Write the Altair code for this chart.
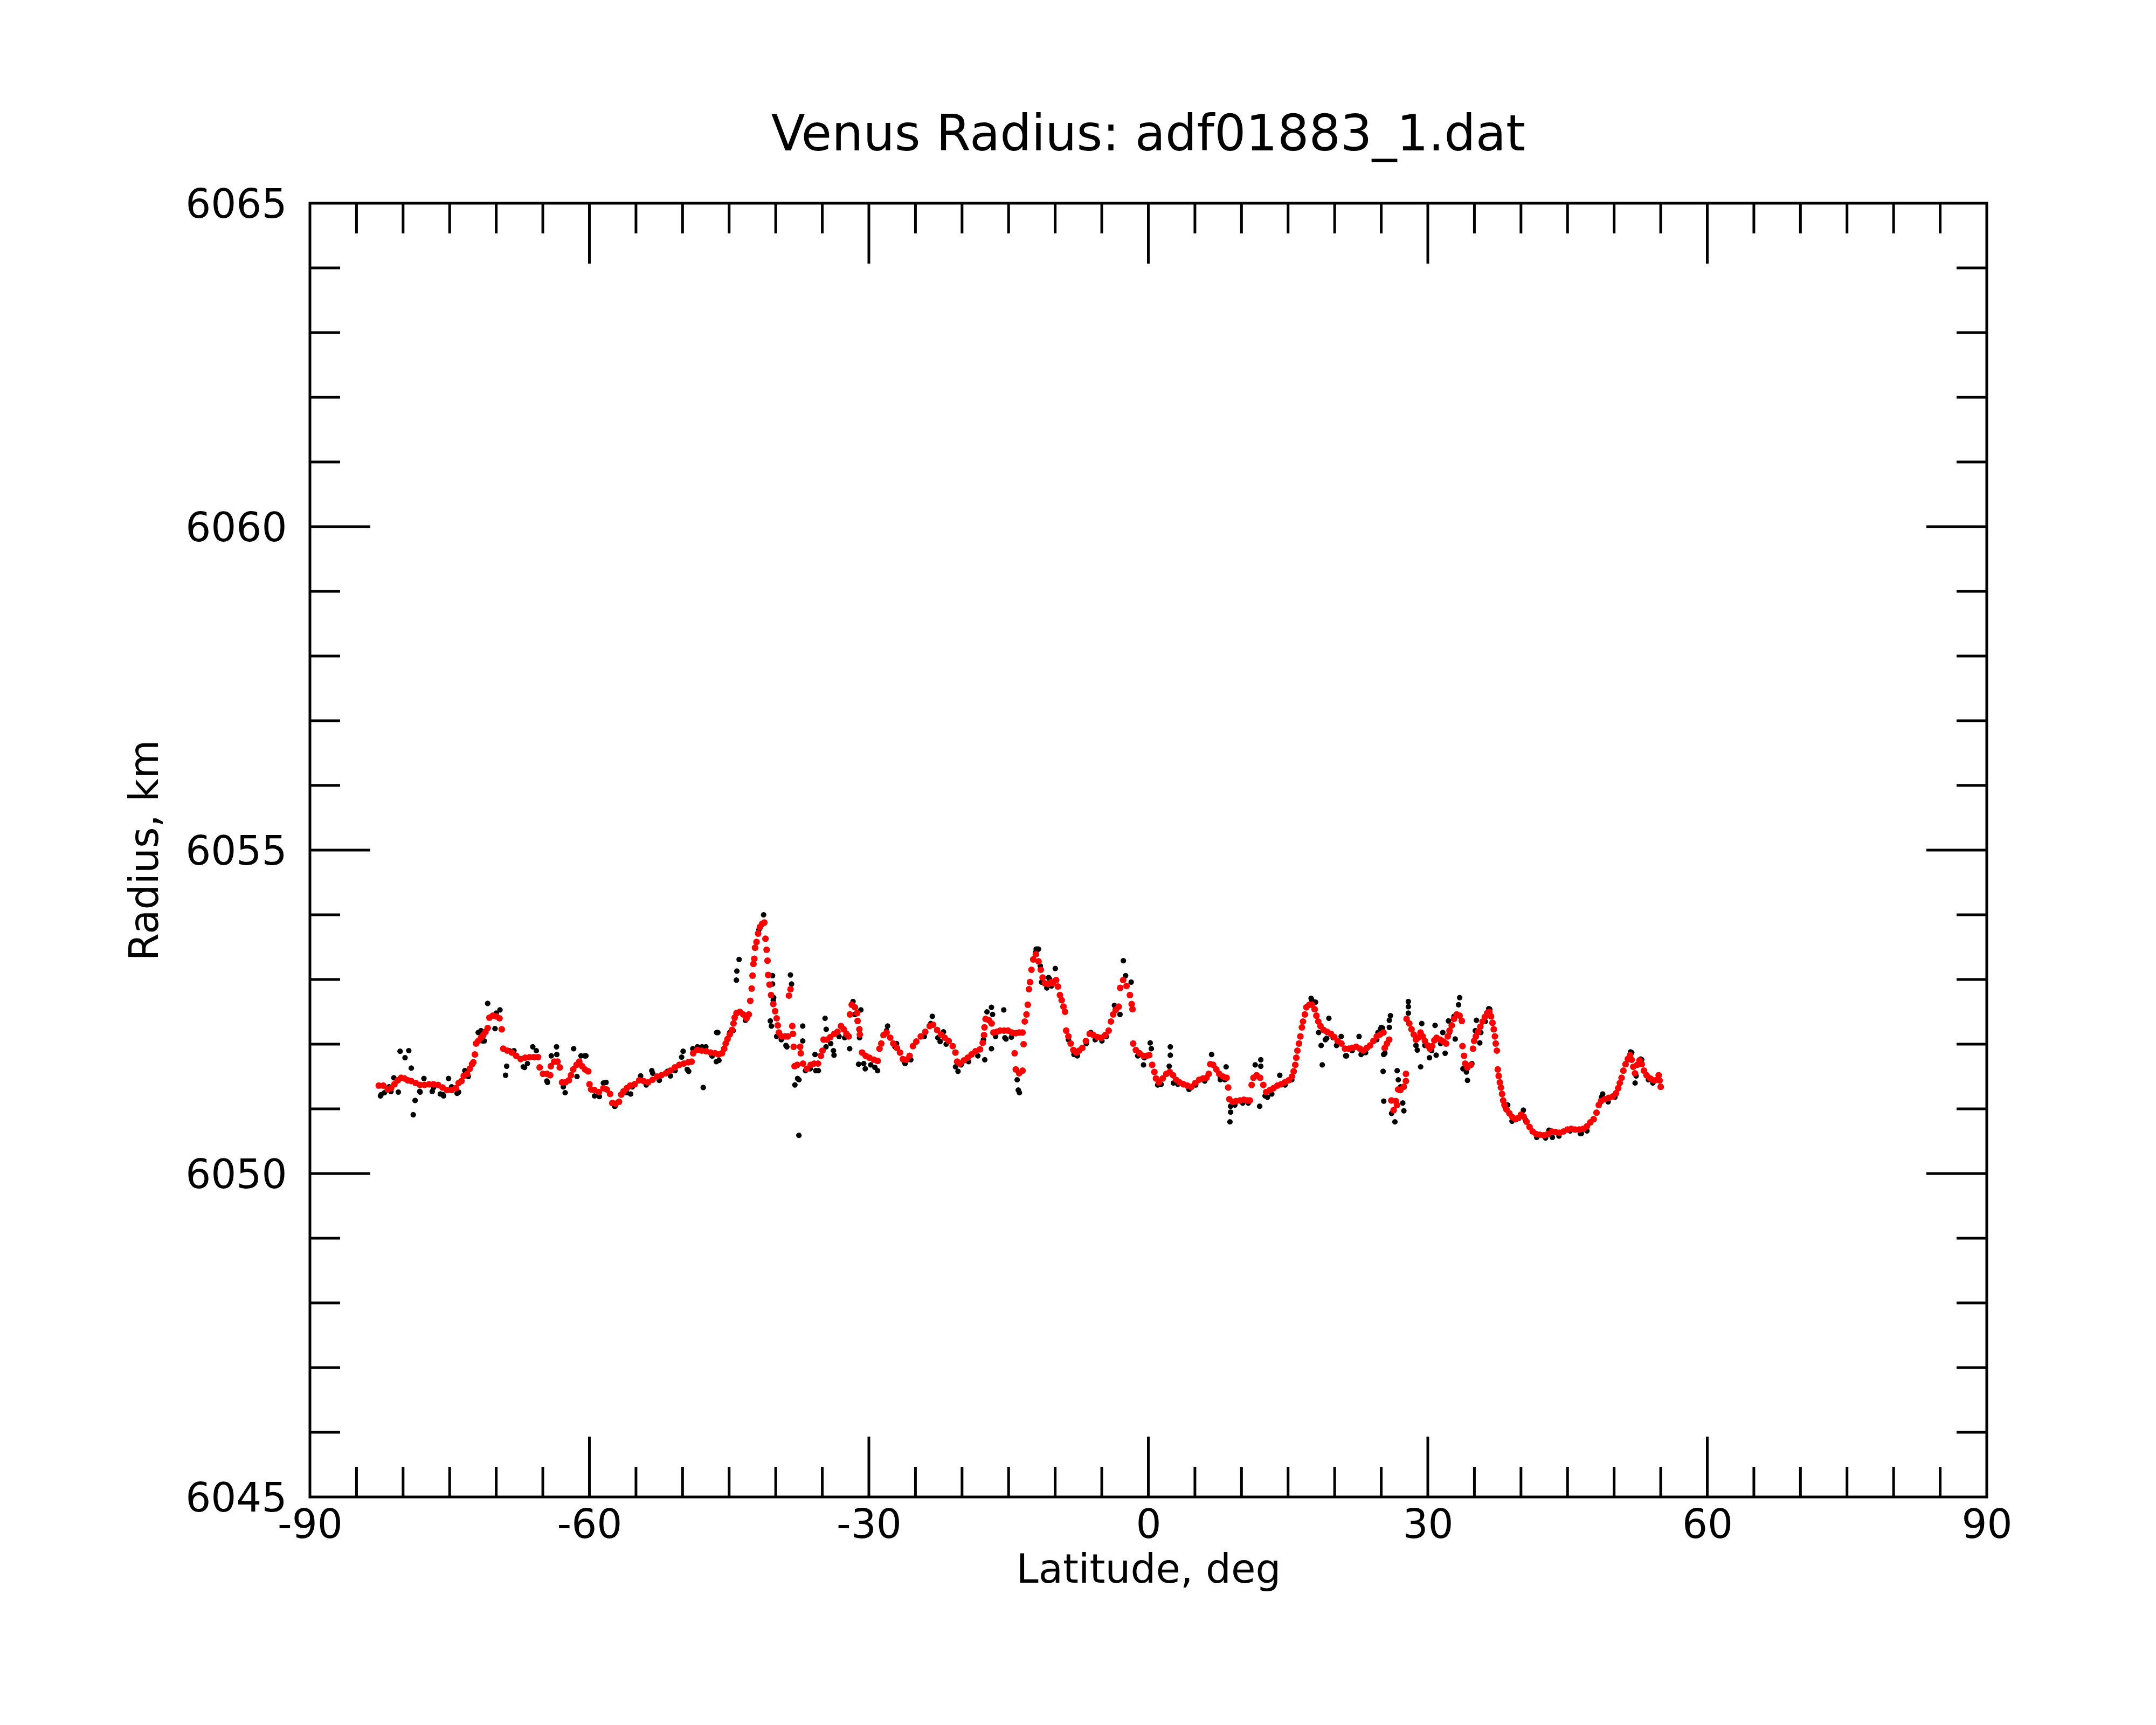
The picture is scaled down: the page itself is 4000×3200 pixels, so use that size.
import altair as alt
import pandas as pd

TITLE = "Venus Radius: adf01883_1.dat"

# Red (smoothed) radius profile: latitude (deg) and radius (km)
red_lat = [
    -82.61, -82.13, -81.65, -81.29, -80.93, -80.57, -80.21, -79.85, -79.49, -79.13,
    -78.65, -78.17, -77.69, -77.21, -76.73, -76.25, -75.77, -75.29, -74.81, -74.33,
    -74.04, -73.73, -73.49, -73.13, -72.84, -72.60, -72.46, -72.29, -72.17, -71.93,
    -71.64, -71.40, -71.16, -70.92, -70.73, -70.37, -70.01, -69.65, -69.41, -69.25,
    -68.81, -68.33, -67.86, -67.38, -66.90, -66.42, -65.94, -65.51, -65.34, -64.98,
    -64.55, -64.21, -64.14, -63.78, -63.42, -63.18, -62.94, -62.58, -62.22, -61.98,
    -61.74, -61.38, -61.09, -60.78, -60.47, -60.13, -59.99, -59.82, -59.46, -58.98,
    -58.50, -58.14, -57.78, -57.54, -57.18, -56.82, -56.58, -56.34, -55.98, -55.62,
    -55.14, -54.66, -54.18, -53.70, -53.22, -52.74, -52.27, -51.79, -51.31, -50.83,
    -50.35, -49.87, -49.39, -49.03, -48.86, -48.43, -47.95, -47.47, -46.99, -46.51,
    -46.13, -45.77, -45.53, -45.37, -45.17, -44.93, -44.69, -44.53, -44.41, -44.21,
    -43.85, -43.49, -43.13, -42.89, -42.73, -42.58, -42.49, -42.39, -42.30, -42.22,
    -42.06, -41.89, -41.70, -41.46, -41.22, -41.10, -40.98, -40.88, -40.81, -40.66,
    -40.50, -40.26, -40.06, -39.90, -39.78, -39.66, -39.37, -38.98, -38.70, -38.58,
    -38.41, -38.22, -38.15, -38.07, -37.98, -37.69, -37.38, -37.31, -37.07, -36.66,
    -36.25, -35.87, -35.46, -35.15, -34.98, -34.86, -34.50, -34.14, -33.71, -33.37,
    -32.99, -32.70, -32.41, -32.17, -32.03, -31.84, -31.50, -31.26, -31.21, -31.02,
    -30.97, -30.73, -30.35, -29.94, -29.46, -29.06, -28.86, -28.67, -28.43, -28.10,
    -27.71, -27.38, -26.99, -26.66, -26.35, -25.99, -25.63, -25.27, -24.91, -24.43,
    -23.95, -23.47, -23.11, -22.68, -22.27, -21.86, -21.43, -21.00, -20.71, -20.52,
    -20.23, -19.80, -19.39, -18.98, -18.55, -18.07, -17.78, -17.64, -17.59, -17.47,
    -17.11, -16.82, -16.63, -16.27, -15.91, -15.48, -15.07, -14.66, -14.23, -13.87,
    -13.51, -13.39, -14.35, -14.23, -13.87, -13.51, -13.27, -13.08, -12.94, -12.82,
    -12.70, -12.55, -12.36, -12.07, -11.79, -11.55, -11.35, -11.11, -10.75, -10.44,
    -10.26, -9.90, -9.71, -9.49, -9.30, -9.11, -8.94, -8.82, -8.58, -8.34,
    -8.05, -7.74, -7.43, -7.09, -6.71, -6.30, -5.89, -5.46, -5.03, -4.62,
    -4.26, -4.02, -3.78, -3.50, -3.18, -3.02, -2.70, -2.34, -1.98, -1.79,
    -1.70, -1.63, -1.34, -0.95, -0.55, -0.19, 0.10, 0.41, 0.65, 0.82,
    1.13, 1.54, 1.93, 2.29, 2.65, 2.98, 3.36, 3.77, 4.18, 4.61,
    5.04, 5.45, 5.86, 6.24, 6.48, 6.65, 6.96, 7.30, 7.61, 8.02,
    8.40, 8.57, 8.69, 9.05, 9.41, 9.84, 10.25, 10.61, 10.90, 11.09,
    11.28, 11.62, 12.00, 12.34, 12.65, 13.05, 13.44, 13.85, 14.25, 14.64,
    15.05, 15.41, 15.60, 15.77, 15.88, 16.00, 16.17, 16.32, 16.48, 16.60,
    16.80, 16.96, 17.28, 17.56, 17.85, 18.04, 18.24, 18.48, 18.81, 19.19,
    19.60, 19.96, 20.32, 20.73, 21.11, 21.52, 21.88, 22.31, 22.72, 23.08,
    23.44, 23.80, 24.16, 24.52, 24.88, 25.24, 25.37, 25.61, 25.85, 26.09,
    26.33, 26.57, 26.69, 26.81, 27.05, 27.41, 27.65, 27.65, 27.72, 28.01,
    28.25, 28.49, 28.73, 28.97, 29.21, 29.45, 29.69, 29.98, 30.22, 30.46,
    30.70, 30.94, 31.32, 31.66, 31.97, 32.14, 32.33, 32.57, 32.81, 33.10,
    33.41, 33.65, 33.72, 33.89, 34.01, 34.25, 34.61, 34.85, 34.97, 35.16,
    35.40, 35.64, 35.88, 36.12, 36.36, 36.60, 36.79, 36.94, 37.08, 37.20,
    37.29, 37.41, 37.51, 37.61, 37.73, 37.85, 37.97, 38.09, 38.23, 38.45,
    38.76, 39.09, 39.41, 39.72, 40.00, 40.29, 40.60, 40.92, 41.25, 41.64,
    42.04, 42.45, 42.88, 43.31, 43.72, 44.13, 44.56, 44.99, 45.40, 45.81,
    46.24, 46.67, 47.08, 47.44, 47.80, 48.11, 48.35, 48.59, 49.00, 49.41,
    49.84, 50.20, 50.44, 50.61, 50.80, 50.99, 51.23, 51.47, 51.71, 51.88,
    52.05, 52.24, 52.48, 52.72, 52.96, 53.20, 53.48, 53.87, 54.28, 54.64,
    54.78, 54.88, 55.00,
]
red_r = [
    6051.36, 6051.36, 6051.30, 6051.32, 6051.38, 6051.44, 6051.48, 6051.47, 6051.44, 6051.43,
    6051.40, 6051.37, 6051.37, 6051.38, 6051.38, 6051.37, 6051.33, 6051.29, 6051.29, 6051.32,
    6051.40, 6051.43, 6051.51, 6051.54, 6051.62, 6051.69, 6051.72, 6051.84, 6052.01, 6052.05,
    6052.10, 6052.14, 6052.19, 6052.25, 6052.41, 6052.44, 6052.43, 6052.40, 6052.23, 6051.93,
    6051.90, 6051.87, 6051.82, 6051.77, 6051.79, 6051.80, 6051.80, 6051.80, 6051.64, 6051.54,
    6051.54, 6051.52, 6051.66, 6051.73, 6051.73, 6051.64, 6051.41, 6051.41, 6051.44, 6051.52,
    6051.61, 6051.68, 6051.73, 6051.66, 6051.61, 6051.58, 6051.38, 6051.30, 6051.29, 6051.26,
    6051.32, 6051.30, 6051.23, 6051.09, 6051.08, 6051.11, 6051.22, 6051.27, 6051.32, 6051.36,
    6051.38, 6051.44, 6051.43, 6051.41, 6051.45, 6051.50, 6051.52, 6051.55, 6051.59, 6051.64,
    6051.68, 6051.70, 6051.72, 6051.73, 6051.86, 6051.91, 6051.90, 6051.89, 6051.87, 6051.86,
    6051.84, 6051.86, 6051.93, 6052.01, 6052.08, 6052.15, 6052.22, 6052.32, 6052.41, 6052.48,
    6052.50, 6052.46, 6052.40, 6052.46, 6052.67, 6052.86, 6053.06, 6053.24, 6053.32, 6053.49,
    6053.58, 6053.71, 6053.81, 6053.86, 6053.88, 6053.63, 6053.46, 6053.29, 6053.07, 6052.92,
    6052.76, 6052.62, 6052.51, 6052.40, 6052.29, 6052.18, 6052.12, 6052.12, 6052.12, 6052.75,
    6052.85, 6052.28, 6052.16, 6051.96, 6051.66, 6051.68, 6051.96, 6051.86, 6051.70, 6051.62,
    6051.68, 6051.70, 6051.70, 6051.82, 6051.90, 6052.07, 6052.07, 6052.11, 6052.16, 6052.19,
    6052.28, 6052.23, 6052.16, 6052.12, 6052.46, 6052.61, 6052.57, 6052.48, 6052.36, 6052.23,
    6052.15, 6051.87, 6051.82, 6051.79, 6051.76, 6051.74, 6051.93, 6052.01, 6052.14, 6052.18,
    6052.10, 6052.01, 6051.94, 6051.87, 6051.77, 6051.76, 6051.82, 6051.97, 6052.04, 6052.12,
    6052.19, 6052.28, 6052.30, 6052.22, 6052.15, 6052.10, 6052.05, 6051.97, 6051.87, 6051.73,
    6051.70, 6051.75, 6051.79, 6051.84, 6051.89, 6051.92, 6052.02, 6052.14, 6052.26, 6052.39,
    6052.37, 6052.32, 6052.18, 6052.19, 6052.21, 6052.21, 6052.21, 6052.18, 6052.17, 6052.18,
    6052.18, 6052.00, 6051.86, 6051.61, 6051.55, 6051.59, 6052.35, 6052.46, 6052.61, 6052.85,
    6052.96, 6053.15, 6053.31, 6053.39, 6053.28, 6053.15, 6053.03, 6052.94, 6052.93, 6052.96,
    6052.94, 6052.99, 6052.89, 6052.76, 6052.68, 6052.58, 6052.50, 6052.21, 6052.12, 6052.01,
    6051.91, 6051.87, 6051.90, 6051.94, 6052.05, 6052.16, 6052.14, 6052.11, 6052.10, 6052.14,
    6052.21, 6052.35, 6052.46, 6052.53, 6052.58, 6052.87, 6052.99, 6052.90, 6052.76, 6052.62,
    6052.54, 6052.01, 6051.91, 6051.86, 6051.82, 6051.82, 6051.83, 6051.68, 6051.57, 6051.47,
    6051.41, 6051.47, 6051.54, 6051.57, 6051.52, 6051.45, 6051.41, 6051.38, 6051.36, 6051.34,
    6051.40, 6051.45, 6051.47, 6051.48, 6051.54, 6051.69, 6051.68, 6051.61, 6051.54, 6051.50,
    6051.48, 6051.33, 6051.15, 6051.11, 6051.12, 6051.13, 6051.14, 6051.13, 6051.13, 6051.37,
    6051.48, 6051.52, 6051.48, 6051.37, 6051.26, 6051.29, 6051.32, 6051.36, 6051.38, 6051.41,
    6051.44, 6051.50, 6051.58, 6051.68, 6051.79, 6051.90, 6052.01, 6052.12, 6052.26, 6052.35,
    6052.46, 6052.57, 6052.61, 6052.61, 6052.54, 6052.44, 6052.35, 6052.28, 6052.22, 6052.19,
    6052.16, 6052.11, 6052.05, 6052.01, 6051.93, 6051.93, 6051.94, 6051.96, 6051.93, 6051.90,
    6051.94, 6051.98, 6052.05, 6052.12, 6052.15, 6052.18, 6051.94, 6052.01, 6052.07, 6051.13,
    6050.98, 6051.12, 6051.06, 6051.30, 6051.29, 6051.34, 6051.43, 6051.54, 6052.39, 6052.32,
    6052.23, 6052.15, 6052.07, 6052.10, 6052.18, 6052.12, 6052.05, 6051.98, 6051.93, 6051.97,
    6052.06, 6052.10, 6052.07, 6052.04, 6052.01, 6052.12, 6052.21, 6052.29, 6052.39, 6052.46,
    6052.44, 6052.36, 6051.97, 6051.82, 6051.70, 6051.64, 6051.68, 6051.93, 6052.05, 6052.12,
    6052.19, 6052.27, 6052.35, 6052.42, 6052.48, 6052.50, 6052.43, 6052.33, 6052.23, 6052.12,
    6052.01, 6051.90, 6051.61, 6051.51, 6051.41, 6051.33, 6051.23, 6051.13, 6051.06, 6050.99,
    6050.93, 6050.87, 6050.84, 6050.86, 6050.91, 6050.88, 6050.80, 6050.72, 6050.65, 6050.61,
    6050.60, 6050.59, 6050.61, 6050.65, 6050.64, 6050.63, 6050.65, 6050.68, 6050.69, 6050.68,
    6050.68, 6050.69, 6050.73, 6050.79, 6050.84, 6050.94, 6051.06, 6051.12, 6051.15, 6051.17,
    6051.19, 6051.24, 6051.32, 6051.40, 6051.48, 6051.59, 6051.69, 6051.77, 6051.83, 6051.76,
    6051.65, 6051.55, 6051.68, 6051.75, 6051.69, 6051.59, 6051.52, 6051.47, 6051.44, 6051.45,
    6051.52, 6051.44, 6051.34,
]

# Black (raw) radius samples: latitude (deg) and radius (km)
black_lat = [
    -82.36, -82.00, -81.50, -81.30, -78.17, -76.73, -76.00, -75.65, -74.80, -74.20,
    -73.37, -73.00, -71.93, -71.45, -70.00, -68.60, -68.10, -67.10, -66.65, -65.70,
    -64.50, -63.50, -62.80, -60.90, -60.50, -59.45, -58.50, -57.30, -56.00, -55.40,
    -53.90, -53.20, -52.50, -51.30, -50.80, -50.10, -49.50, -48.90, -48.40, -47.50,
    -46.80, -47.57, -46.85, -46.37, -44.93, -44.57, -44.10, -43.25, -41.80, -40.26,
    -39.90, -39.40, -38.80, -37.50, -36.80, -36.30, -35.70, -34.60, -34.10, -33.80,
    -33.20, -32.60, -31.50, -31.00, -30.55, -29.80, -29.35, -28.10, -27.20, -26.10,
    -25.50, -24.05, -23.35, -22.60, -21.70, -20.70, -20.10, -19.30, -18.30, -17.70,
    -16.40, -15.40, -14.70, -12.10, -11.60, -10.90, -11.46, -10.98, -10.40, -8.58,
    -7.98, -7.62, -6.66, -6.18, -5.70, -4.98, -4.50, -1.14, -0.43, 1.00,
    1.37, 2.69, 3.17, 4.37, 5.09, 6.05, 7.73, 8.21, 9.29, 10.13,
    10.73, 12.53, 13.25, 14.68, 15.40, 17.56, 18.28, 19.00, 19.84, 20.20,
    21.28, 21.88, 22.84, 23.32, 24.52, 24.65, 25.00, 28.73, 29.69, 30.41,
    31.37, 31.61, 32.33, 32.81, 33.77, 34.73, 35.69, 36.17, 36.65, 38.33,
    39.04, 39.52, 40.48, 41.69, 42.64, 44.08, 45.28, 46.48, 47.08, 48.64,
    49.36, 50.08, 51.76, 52.36, 52.96, 53.68, 54.16,
    -80.32, -79.39, -79.79, -79.12, -78.71, -78.91, -80.51, -80.99, -82.43, -78.21,
    -77.76, -76.87, -75.72, -75.12, -74.04, -70.92, -69.60, -70.13, -71.28, -71.64,
    -68.88, -69.00, -66.96, -66.08, -64.57, -63.53, -64.09, -62.60, -61.69, -60.37,
    -61.33, -58.21, -58.93, -57.25, -55.57, -54.50, -53.30, -51.62, -49.94, -49.34,
    -47.78, -47.90, -46.34, -46.09, -46.21, -43.93, -44.17, -44.22, -41.30, -40.58,
    -40.46, -40.34, -40.34, -40.22, -38.90, -38.42, -38.30, -37.94, -37.65, -37.51,
    -37.10, -37.10, -35.78, -35.42, -34.70, -34.58, -33.74, -32.06, -31.70, -30.86,
    -31.10, -30.39, -29.07, -27.99, -27.03, -26.19, -23.19, -22.35, -21.99, -20.43,
    -19.47, -17.56, -17.32, -16.84, -16.72, -16.84, -15.52, -15.28, -14.08, -13.96,
    -13.84, -12.04, -11.80, -10.60, -11.91, -9.99, -10.71, -2.68, -2.44, -1.84,
    -3.64, -3.04, 0.20, 0.32, -0.52, 2.36, 2.36, 2.24, 6.79, 8.35,
    7.75, 8.83, 8.83, 8.76, 11.95, 11.47, 12.07, 12.07, 12.79, 14.11,
    17.47, 17.95, 19.38, 18.67, 18.55, 19.14, 20.70, 21.18, 22.62, 25.14,
    25.26, 24.91, 25.99, 25.87, 25.87, 25.39, 25.20, 25.27, 26.71, 26.83,
    27.07, 27.31, 27.43, 26.47, 26.11, 27.91, 27.91, 27.91, 28.87, 29.23,
    29.35, 30.18, 30.78, 30.90, 31.86, 32.22, 32.94, 33.42, 33.30, 34.14,
    34.26, 35.22, 35.10, 35.58, 36.54, 38.58, 40.26, 43.01, 43.37, 46.37,
    48.77, 51.89, 52.25, 52.85,
]
black_r = [
    6051.22, 6051.25, 6051.34, 6051.27, 6051.26, 6051.33, 6051.23, 6051.20, 6051.34, 6051.24,
    6051.59, 6051.50, 6052.18, 6052.05, 6052.48, 6051.90, 6051.90, 6051.65, 6051.70, 6051.90,
    6051.41, 6051.84, 6051.34, 6051.82, 6051.82, 6051.20, 6051.40, 6051.04, 6051.25, 6051.34,
    6051.37, 6051.55, 6051.44, 6051.51, 6051.59, 6051.80, 6051.61, 6051.93, 6051.96, 6051.96,
    6051.82, 6051.93, 6051.82, 6051.73, 6052.18, 6052.21, 6052.48, 6052.37, 6053.77, 6052.68,
    6052.12, 6052.07, 6051.96, 6051.45, 6051.59, 6051.62, 6051.59, 6051.96, 6052.01, 6051.90,
    6052.12, 6052.10, 6052.46, 6052.10, 6051.70, 6051.68, 6051.64, 6052.21, 6051.96, 6051.70,
    6051.76, 6052.12, 6052.32, 6052.10, 6052.00, 6051.65, 6051.68, 6051.73, 6051.82, 6052.07,
    6052.12, 6052.10, 6052.11, 6053.42, 6053.21, 6052.87, 6052.96, 6052.93, 6052.90, 6052.07,
    6051.84, 6051.82, 6052.01, 6052.18, 6052.07, 6052.05, 6052.12, 6051.82, 6051.79, 6051.37,
    6051.38, 6051.40, 6051.38, 6051.30, 6051.37, 6051.43, 6051.45, 6051.45, 6051.06, 6051.09,
    6051.09, 6051.20, 6051.23, 6051.37, 6051.45, 6052.68, 6052.18, 6052.07, 6052.10, 6051.98,
    6051.82, 6051.90, 6051.84, 6051.87, 6052.07, 6052.18, 6052.26, 6051.98, 6051.98, 6051.90,
    6052.01, 6052.18, 6052.18, 6052.43, 6051.62, 6051.70, 6052.18, 6052.35, 6052.54, 6051.01,
    6050.81, 6050.84, 6050.83, 6050.56, 6050.55, 6050.58, 6050.66, 6050.62, 6050.66, 6051.18,
    6051.11, 6051.18, 6051.88, 6051.51, 6051.76, 6051.45, 6051.40,
    6051.89, 6051.90, 6051.79, 6051.63, 6051.13, 6050.91, 6051.26, 6051.48, 6051.20, 6051.27,
    6051.47, 6051.27, 6051.22, 6051.47, 6051.26, 6052.63, 6052.53, 6052.24, 6052.05, 6052.21,
    6051.66, 6051.52, 6051.64, 6051.96, 6051.43, 6051.96, 6051.82, 6051.25, 6051.93, 6051.82,
    6051.50, 6051.41, 6051.19, 6051.04, 6051.23, 6051.51, 6051.59, 6051.58, 6051.89, 6051.58,
    6051.33, 6051.96, 6052.18, 6051.75, 6052.18, 6053.31, 6053.13, 6052.99, 6054.00, 6052.36,
    6052.28, 6053.06, 6052.93, 6052.72, 6051.98, 6053.07, 6052.93, 6051.37, 6051.47, 6050.59,
    6052.28, 6052.05, 6051.84, 6051.59, 6052.40, 6052.23, 6051.83, 6051.93, 6052.66, 6052.53,
    6051.69, 6051.62, 6051.59, 6052.28, 6052.01, 6051.72, 6052.43, 6052.04, 6052.19, 6051.58,
    6051.75, 6051.76, 6052.50, 6052.57, 6052.46, 6051.93, 6052.53, 6052.08, 6051.45, 6051.29,
    6051.25, 6053.47, 6053.47, 6053.01, 6053.47, 6053.17, 6053.03, 6053.29, 6053.06, 6052.96,
    6052.60, 6052.46, 6052.02, 6051.93, 6051.68, 6051.96, 6051.83, 6051.66, 6051.84, 6051.65,
    6051.48, 6051.04, 6050.95, 6050.80, 6051.04, 6051.68, 6051.76, 6051.66, 6051.18, 6051.52,
    6052.71, 6052.65, 6052.40, 6051.68, 6051.98, 6052.09, 6052.12, 6051.82, 6052.12, 6052.25,
    6051.84, 6052.23, 6052.44, 6052.37, 6052.26, 6051.86, 6051.58, 6051.12, 6051.59, 6051.45,
    6051.34, 6051.09, 6050.97, 6050.80, 6050.93, 6052.66, 6052.58, 6052.48, 6051.91, 6051.65,
    6052.32, 6051.79, 6052.29, 6051.83, 6051.86, 6052.36, 6052.08, 6052.72, 6052.61, 6051.57,
    6051.44, 6052.37, 6052.21, 6052.02, 6052.55, 6051.06, 6050.98, 6050.67, 6050.56, 6050.62,
    6051.23, 6051.87, 6051.40, 6051.77,
]

# Axis values
x_labels = [-90, -60, -30, 0, 30, 60, 90]
y_labels = [6045, 6050, 6055, 6060, 6065]
x_major_ticks = [-60, -30, 0, 30, 60]
x_minor_ticks = [v for v in range(-85, 90, 5) if v % 30 != 0]
y_major_ticks = [6050, 6055, 6060]
y_minor_ticks = [v for v in range(6046, 6065) if v % 5 != 0]

W, H = 3111, 2400
FONT = "DejaVu Sans"
LW = 5
MAJ, MIN = 112, 56

xs = alt.Scale(domain=[-90, 90], nice=False, zero=False)
ys = alt.Scale(domain=[6045, 6065], nice=False, zero=False)

red_df = pd.DataFrame({"lat": red_lat, "r": red_r})
black_df = pd.DataFrame({"lat": black_lat, "r": black_r})

x_axis = alt.Axis(
    values=x_labels, ticks=False, tickSize=0, domain=False, grid=False,
    labelFont=FONT, labelFontSize=74, labelColor="black", labelPadding=17,
    labelFlush=False, labelOverlap=False, labelLimit=600,
    labelExpr="datum.value + ''",
    title="Latitude, deg", titleFont=FONT, titleFontSize=74, titleFontWeight="normal",
    titleColor="black", titleBaseline="alphabetic", titleY=158,
)
y_axis = alt.Axis(
    values=y_labels, ticks=False, tickSize=0, domain=False, grid=False,
    labelFont=FONT, labelFontSize=74, labelColor="black", labelPadding=43,
    labelFlush=False, labelOverlap=False, labelOffset=4, labelLimit=600,
    labelExpr="datum.value + ''",
    title="Radius, km", titleFont=FONT, titleFontSize=74, titleFontWeight="normal",
    titleColor="black", titleBaseline="alphabetic", titleX=-283, titleY=H / 2,
    titleAngle=270, titleAlign="center",
)


def X(field):
    return alt.X(field, type="quantitative", scale=xs, axis=x_axis)


def Y(field):
    return alt.Y(field, type="quantitative", scale=ys, axis=y_axis)


black_pts = alt.Chart(black_df).mark_circle(color="black", opacity=1, size=105).encode(
    x=X("lat"), y=Y("r"),
)
red_pts = alt.Chart(red_df).mark_circle(color="#ff0000", opacity=1, size=150).encode(
    x=X("lat"), y=Y("r"),
)


def xticks(vals, length):
    d = pd.DataFrame({"lat": vals})
    bottom = alt.Chart(d).mark_rule(color="black", strokeWidth=LW).encode(
        x=X("lat"), y=alt.value(H), y2=alt.value(H - length))
    top = alt.Chart(d).mark_rule(color="black", strokeWidth=LW).encode(
        x=X("lat"), y=alt.value(0), y2=alt.value(length))
    return [bottom, top]


def yticks(vals, length):
    d = pd.DataFrame({"r": vals})
    left = alt.Chart(d).mark_rule(color="black", strokeWidth=LW).encode(
        y=Y("r"), x=alt.value(0), x2=alt.value(length))
    right = alt.Chart(d).mark_rule(color="black", strokeWidth=LW).encode(
        y=Y("r"), x=alt.value(W), x2=alt.value(W - length))
    return [left, right]


layers = [black_pts, red_pts]
layers += xticks(x_major_ticks, MAJ) + xticks(x_minor_ticks, MIN)
layers += yticks(y_major_ticks, MAJ) + yticks(y_minor_ticks, MIN)

chart = alt.layer(*layers).properties(
    width=W, height=H,
    background="white",
    title=alt.TitleParams(
        TITLE, font=FONT, fontSize=92, fontWeight="normal", color="black",
        anchor="middle", frame="group", baseline="alphabetic", offset=4, dy=31,
    ),
    autosize=alt.AutoSizeParams(type="none"),
    padding={"left": 567, "top": 369, "right": 300, "bottom": 400},
).configure_view(
    stroke="black", strokeWidth=LW,
)

chart.save("out.html", embed_options={"renderer": "svg", "actions": False})
